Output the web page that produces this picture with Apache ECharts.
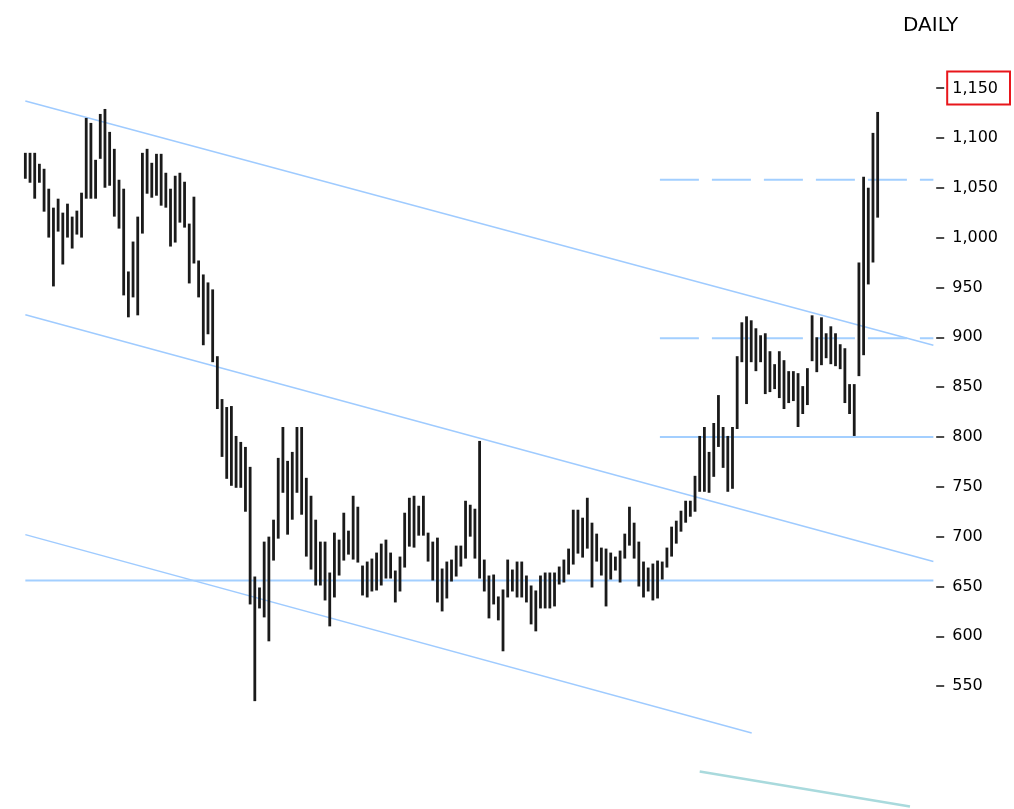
<!DOCTYPE html>
<html><head><meta charset="utf-8">
<script src="https://cdn.jsdelivr.net/npm/echarts@6/dist/echarts.min.js"></script>
<style>html,body{margin:0;padding:0;background:#fff}#c{width:1014px;height:809px}</style>
</head><body><div id="c"></div>
<script>
// Daily high / low values (one entry per session, in order)
const highs = [
 1085,1085,1085,1074,1069,1049,1030,1039,1025,1034,1021,1027,1045,1120,1115,1078,1124,1129,1106,1089,1058,1049,966,996,1021,1085,
 1089,1075,1084,1084,1065,1049,1062,1065,1056,1014,1041,977,963,955,948,881,838,830,831,801,795,790,770,660,649,
 695,700,717,779,810,776,785,810,810,759,741,717,695,695,664,704,697,724,706,741,730,671,675,678,684,693,697,684,666,680,
 724,739,741,731,741,704,695,699,668,675,677,691,691,736,732,728,796,677,661,662,640,647,677,667,675,675,661,651,646,
 661,664,664,664,670,677,688,727,727,719,739,714,703,689,688,684,680,686,703,730,714,695,675,669,673,676,675,689,710,716,
 726,736,736,761,801,810,785,814,842,810,801,810,881,
 915,921,917,909,902,904,886,873,886,877,866,866,864,851,869,922,900,920,904,911,904,893,889,853,853,975,1061,1050,1105,1126
];
const lows = [
 1059,1055,1039,1055,1026,1000,951,1006,973,1000,989,1003,1000,1039,1039,1039,1079,1050,1052,1021,1009,942,920,940,922,1004,
 1044,1040,1042,1032,1030,991,995,1015,1010,954,974,940,892,903,875,828,780,758,751,749,749,725,632,535,628,
 619,595,676,698,744,702,717,744,722,680,667,651,651,636,610,639,661,676,682,677,674,641,639,645,646,651,658,658,634,645,
 669,690,689,701,701,675,656,634,625,638,655,660,670,678,700,678,658,645,618,632,616,585,639,645,639,639,634,612,605,
 628,628,628,630,652,654,662,672,683,679,688,649,675,661,630,657,666,654,678,691,678,650,639,645,636,638,657,669,680,693,
 705,714,720,725,745,745,744,760,790,769,745,748,808,
 875,833,875,866,875,843,845,848,839,828,834,836,810,823,832,876,865,872,879,873,871,868,834,823,801,861,882,953,975,1020
];
const totalSlots = 195; // sessions plus empty space to the right
const tickValues = [550,600,650,700,750,800,850,900,950,1000,1050,1100,1150];
const boxedTick = 1150;
const title = 'DAILY';

// Drawn lines: [startIndex, startValue], [endIndex, endValue]
const upperChannel = [[0,1137],[193.9,892]];
const middleChannel = [[0,922.5],[193.9,675]];
const lowerChannel = [[0,702],[155.1,503]];
const supportLine = [[0,656],[193.9,656]];
const level800 = [[135.5,800],[193.9,800]];
const level900 = [[135.5,899],[193.9,899]];
const level1058 = [[135.5,1058],[193.9,1058]];
const tealLine = [[144.0,464.5],[188.9,429.4]];

const barData = highs.map((h, i) => [i, lows[i], h]);
const FONT = 'DejaVu Sans';

function lineSeries(name, data, color, dash, width) {
  return {
    name, type: 'line', data, symbol: 'none', silent: true, z: 1,
    lineStyle: { color, width: width || 1.5, type: dash || 'solid' },
    animation: false
  };
}

const chart = echarts.init(document.getElementById('c'));
chart.setOption({
  animation: false,
  backgroundColor: '#fff',
  title: {
    text: title, left: 898, top: 11,
    textStyle: { fontFamily: FONT, fontSize: 20, fontWeight: 'normal', color: '#000' }
  },
  grid: { left: 23, width: 915, top: 0, bottom: 0, containLabel: false },
  xAxis: {
    type: 'value', min: -0.5, max: totalSlots - 0.5, show: false
  },
  yAxis: {
    type: 'value', position: 'right', min: 426.8, max: 1238.3,
    splitLine: { show: false },
    axisLine: { show: false, onZero: false },
    axisTick: { show: true, customValues: tickValues, length: 8, lineStyle: { color: '#111', width: 1.5 } },
    axisLabel: {
      show: true, customValues: tickValues, margin: 11,
      fontFamily: FONT, fontSize: 16, color: '#000',
      formatter: v => {
        const s = Math.round(v).toLocaleString('en-US');
        return v === boxedTick ? '{box|' + s + '}' : '{n|' + s + '}';
      },
      rich: {
        n: { fontFamily: FONT, fontSize: 16, color: '#000', padding: [0, 0, 0, 5] },
        box: { fontFamily: FONT, fontSize: 16, color: '#000', borderColor: '#e8161b', borderWidth: 2, padding: [9, 12, 8, 5] }
      }
    }
  },
  series: [
    lineSeries('upper', upperChannel, '#9fcbff'),
    lineSeries('middle', middleChannel, '#9fcbff'),
    lineSeries('lower', lowerChannel, '#9fcbff'),
    lineSeries('support', supportLine, '#a3cfff', null, 2),
    lineSeries('800', level800, '#a3cfff', null, 2),
    lineSeries('900', level900, '#a3cfff', [39, 13], 2),
    lineSeries('1058', level1058, '#a3cfff', [39, 13], 2),
    lineSeries('teal', tealLine, '#a9dadd', null, 2.5),
    {
      type: 'custom', name: 'bars', data: barData, z: 3, silent: true,
      encode: { x: 0, y: [1, 2] },
      renderItem: (params, api) => {
        const i = api.value(0), lo = api.value(1), hi = api.value(2);
        const pHi = api.coord([i, hi]);
        const pLo = api.coord([i, lo]);
        return {
          type: 'rect',
          shape: { x: pHi[0] - 1.4, y: pHi[1], width: 2.8, height: pLo[1] - pHi[1] },
          style: { fill: '#1a1a1a' }
        };
      }
    }
  ]
});
</script>
</body></html>
